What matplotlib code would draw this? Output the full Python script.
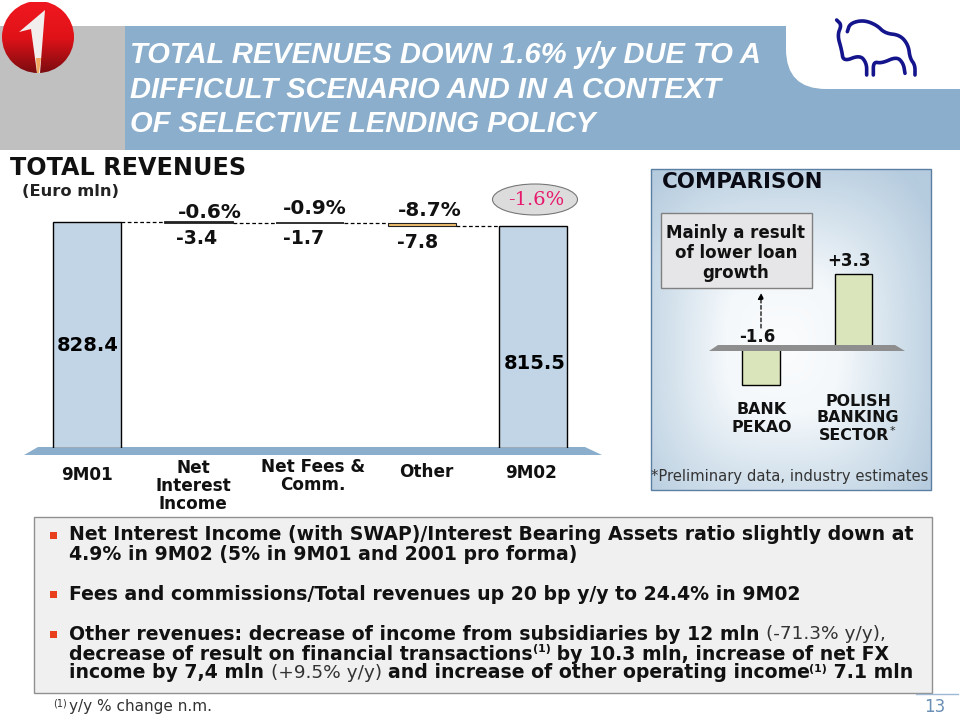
import numpy as np
import matplotlib
matplotlib.use('Agg')
import matplotlib.pyplot as plt
from matplotlib.colors import LinearSegmentedColormap
from matplotlib.patches import Polygon, Rectangle, Circle, Ellipse, FancyBboxPatch

plt.rcParams['font.family'] = ['DejaVu Sans']

# waterfall data (Euro mln)
wf_labels = ['9M01', 'Net\nInterest\nIncome', 'Net Fees &\nComm.', 'Other', '9M02']
start_value = 828.4
end_value = 815.5
deltas = [-3.4, -1.7, -7.8]
delta_labels = ['-3.4', '-1.7', '-7.8']
delta_pcts = ['-0.6%', '-0.9%', '-8.7%']
total_pct = '-1.6%'

# comparison panel
cmp_labels = ['BANK\nPEKAO', 'POLISH\nBANKING\nSECTOR']
cmp_values = [-1.6, 3.3]
cmp_texts = ['-1.6', '+3.3']

title_lines = ['TOTAL REVENUES DOWN 1.6% y/y DUE TO A',
               'DIFFICULT SCENARIO AND IN A CONTEXT',
               'OF SELECTIVE LENDING POLICY']

W, H = 960, 720
fig = plt.figure(figsize=(9.6, 7.2), dpi=100)
bg = fig.add_axes([0, 0, 1, 1])
bg.set_xlim(0, W)
bg.set_ylim(H, 0)
bg.axis('off')


def px_axes(left, right, top, bottom):
    """axes placed by pixel box, y measured from the top of the picture"""
    ax = fig.add_axes([left / W, 1 - bottom / H, (right - left) / W, (bottom - top) / H])
    ax.patch.set_alpha(0)
    ax.axis('off')
    return ax


def smooth(points, rounds=3):
    """corner cutting, only to round the hand-traced logo"""
    pts = np.array(points, dtype=float)
    for _ in range(rounds):
        q = 0.75 * pts[:-1] + 0.25 * pts[1:]
        r = 0.25 * pts[:-1] + 0.75 * pts[1:]
        mid = np.empty((2 * len(q), 2))
        mid[0::2] = q
        mid[1::2] = r
        pts = np.vstack([pts[0], mid, pts[-1]])
    return pts


# header
bg.add_patch(Rectangle((0, 26), 125, 124, fc='#c0c0c0', ec='none'))
bg.add_patch(Rectangle((125, 26), 835, 124, fc='#8aaecb', ec='none'))
bg.add_patch(FancyBboxPatch((786, -60), 240, 149, boxstyle='round,pad=0,rounding_size=40', fc='white', ec='none'))
title_y = [55, 90, 124]
for y, line in zip(title_y, title_lines):
    bg.text(130, y, line, color='white', fontsize=21, fontweight='bold', style='italic',
            family='Liberation Sans', va='center', ha='left')

# red logo
red = LinearSegmentedColormap.from_list('red', ['#f01820', '#e01218', '#7c0c10'])
im = bg.imshow(np.linspace(0, 1, 100).reshape(-1, 1), extent=(2, 74, 73, 2), cmap=red, aspect='auto', zorder=2)
im.set_clip_path(Circle((38, 37), 36, transform=bg.transData))
bg.add_patch(Polygon([(45, 10), (19, 32), (31, 29), (37, 73), (40, 73)], fc='#f2eeee', ec='none', zorder=3))
bg.add_patch(Polygon([(36, 58), (37, 73), (39, 73), (41, 58)], fc='#f0a860', ec='none', zorder=3))
bg.set_xlim(0, W)
bg.set_ylim(H, 0)

# bison logo
bison = [[(230, 60), (245, 75), (232, 105), (245, 150), (250, 185), (300, 165), (320, 190), (320, 225)],
         [(262, 95), (270, 70), (310, 60), (350, 75), (375, 100), (420, 105), (445, 135), (450, 175), (465, 195), (465, 225)],
         [(340, 225), (340, 185), (365, 190), (410, 170), (430, 190), (435, 220)]]
for seg in bison:
    pts = smooth(seg)
    bg.plot(760 + pts[:, 0] / 3, pts[:, 1] / 3, color='#14148c', lw=2.6, solid_capstyle='round')

bg.text(10, 168, 'TOTAL REVENUES', fontsize=17.2, fontweight='bold', va='center', color='#111111')
bg.text(22, 191, '(Euro mln)', fontsize=11.7, fontweight='bold', va='center', color='#222222')

# waterfall, 0.2728 px per Euro mln
wf = px_axes(31.25, 589.25, 448 - 900 * 0.2728, 448)
wf.set_xlim(-0.5, 4.5)
wf.set_ylim(0, 900)
levels = start_value + np.cumsum(deltas)
tops = np.concatenate([[start_value], levels])
bar_w = 0.61
wf.bar([0, 4], [start_value, end_value], width=bar_w, color='#c1d5e6', edgecolor='black', linewidth=1)
for i, d in enumerate(deltas):
    face = '#f0c070' if i == 2 else 'black'
    wf.bar(i + 1, d, bottom=tops[i], width=bar_w, color=face, edgecolor='#222222', linewidth=1.3 if i < 2 else 0.8)
for i, lev in enumerate(tops):
    wf.plot([i + bar_w / 2, i + 1 - bar_w / 2], [lev, lev], color='black', lw=0.9, dashes=(3, 2))
wf.text(0.01, 377, '%.1f' % start_value, ha='center', va='center', fontsize=14, fontweight='bold')
wf.text(4.01, 308, '%.1f' % end_value, ha='center', va='center', fontsize=14, fontweight='bold')

bg.add_patch(Polygon([(38, 447), (585, 447), (602, 455), (24, 455)], fc='#8aaecb', ec='none', zorder=5))

wf_label_pos = [(87, 475), (193, 486), (313, 476), (426, 472), (531, 473)]
for lab, pos in zip(wf_labels, wf_label_pos):
    bg.text(pos[0], pos[1], lab, ha='center', va='center', fontsize=12.2, fontweight='bold',
            color='#111111', linespacing=1.02)

pct_pos = [(210, 212), (315, 209), (430, 211)]
val_pos = [(197, 239), (304, 238), (418, 243)]
for s, p in zip(delta_pcts, pct_pos):
    bg.text(p[0], p[1], s, ha='center', va='center', fontsize=14.4, fontweight='bold', color='#111111')
for s, p in zip(delta_labels, val_pos):
    bg.text(p[0], p[1], s, ha='center', va='center', fontsize=13.6, fontweight='bold', color='#111111')

bg.add_patch(Ellipse((535, 199.5), 85, 31, fc='#dcdcdc', ec='#777777', lw=0.8))
bg.text(536, 200, total_pct, ha='center', va='center', fontsize=14, color='#e8186c', family='DejaVu Serif')

# comparison panel
yy, xx = np.mgrid[0:1:200j, 0:1:200j]
dist = (np.abs((xx - 0.47) / 0.53) ** 3 + np.abs((yy - 0.55) / 0.55) ** 3) ** (1 / 3)
blue = LinearSegmentedColormap.from_list('panel', ['#fbfcfd', '#f4f8fb', '#d3e1ec', '#b5cbde'])
bg.imshow(np.clip(dist / 1.15, 0, 1), extent=(651, 931, 490, 169), cmap=blue, aspect='auto', zorder=1)
bg.set_xlim(0, W)
bg.set_ylim(H, 0)
bg.add_patch(Rectangle((651, 169), 280, 321, fc='none', ec='#5b7fa3', lw=1, zorder=2))
bg.text(662, 182, 'COMPARISON', fontsize=15.4, fontweight='bold', va='center', color='#0a0a14', zorder=3)

bg.add_patch(Rectangle((661, 213), 151, 75, fc='#e6e6e8', ec='#808080', lw=1, zorder=3))
bg.text(736, 253, 'Mainly a result\nof lower loan\ngrowth', ha='center', va='center', fontsize=12,
        fontweight='bold', linespacing=1.12, color='#111111', zorder=4)
bg.annotate('', xy=(761, 293), xytext=(761, 328), zorder=4,
            arrowprops=dict(arrowstyle='-|>', color='black', lw=0.9, linestyle=(0, (3, 2)), mutation_scale=9,
                            shrinkA=0, shrinkB=0))

# 22.7 px per point, zero at y=349
cmp_ax = px_axes(761 - 46.25, 853.5 + 46.25, 349 - 4 * 22.7, 349 + 2 * 22.7)
cmp_ax.set_zorder(3)
cmp_ax.set_xlim(-0.5, 1.5)
cmp_ax.set_ylim(-2, 4)
cmp_ax.bar([0, 1], cmp_values, width=0.41, color='#dbe5bb', edgecolor='black', linewidth=1)

top = px_axes(0, W, 0, H)
top.set_zorder(4)
top.set_xlim(0, W)
top.set_ylim(H, 0)
top.add_patch(Polygon([(718, 345), (895, 345), (905, 351), (709, 351)], fc='#8e8e8e', ec='none'))
top.text(757, 337, cmp_texts[0], ha='center', va='center', fontsize=12, fontweight='bold', color='#111111')
top.text(849, 261, cmp_texts[1], ha='center', va='center', fontsize=12, fontweight='bold', color='#111111')
cmp_lines = [(762, y, s) for y, s in zip([410, 427], cmp_labels[0].split('\n'))]
cmp_lines += [(x, y, s) for x, y, s in zip([858.5, 858, 854], [401, 418, 436], cmp_labels[1].split('\n'))]
for x, y, s in cmp_lines:
    top.text(x, y, s, ha='center', va='center', fontsize=11.4, fontweight='bold', color='#111111')
top.text(890, 431, '*', ha='left', va='center', fontsize=8, color='#222222')
top.text(651, 477, '*Preliminary data, industry estimates', ha='left', va='center', fontsize=10.65, color='#333333')

# text box
bg.add_patch(Rectangle((34, 517), 898, 176, fc='#f0f0f0', ec='#909090', lw=1, zorder=1))
renderer = fig.canvas.get_renderer()


def run_width(txt, size, weight):
    a = top.text(0, 0, 'x' + txt + 'x', fontsize=size, fontweight=weight)
    b = top.text(0, 0, 'xx', fontsize=size, fontweight=weight)
    w = a.get_window_extent(renderer).width - b.get_window_extent(renderer).width
    a.remove()
    b.remove()
    return w


def draw_runs(x, y, runs, size=13.6):
    """write bold / normal / superscript pieces one after the other on one line"""
    for txt, kind in runs:
        weight = 'normal' if kind == 'n' else 'bold'
        s = {'b': size, 'n': size - 0.3, 's': size * 0.58}[kind]
        dy = -4.5 if kind == 's' else 0
        top.text(x, y + dy, txt, fontsize=s, fontweight=weight, va='center', ha='left',
                 color='#333333' if kind == 'n' else '#111111')
        x += run_width(txt, s, weight)


bullet_lines = [
    (535, True, [('Net Interest Income (with SWAP)/Interest Bearing Assets ratio slightly down at', 'b')]),
    (554, False, [('4.9% in 9M02 (5% in 9M01 and 2001 pro forma)', 'b')]),
    (594, True, [('Fees and commissions/Total revenues up 20 bp y/y to 24.4% in 9M02', 'b')]),
    (634, True, [('Other revenues: decrease of income from subsidiaries by 12 mln ', 'b'), ('(-71.3% y/y),', 'n')]),
    (654, False, [('decrease of result on financial transactions', 'b'), ('(1)', 's'), (' by 10.3 mln, increase of net FX', 'b')]),
    (673, False, [('income by 7,4 mln ', 'b'), ('(+9.5% y/y) ', 'n'), ('and increase of other operating income', 'b'),
                  ('(1)', 's'), (' 7.1 mln', 'b')]),
]
for y, has_bullet, runs in bullet_lines:
    if has_bullet:
        top.add_patch(Rectangle((49.5, y - 3.5), 7, 7, fc='#e8401c', ec='none'))
    draw_runs(69, y, runs)

top.text(53, 703, '(1)', fontsize=7, va='center', color='#333333')
top.text(69, 706, 'y/y % change n.m.', fontsize=11, va='center', color='#333333')
top.plot([916, 958], [694, 694], color='#9db8d2', lw=1)
top.text(935, 707, '13', fontsize=12, ha='center', va='center', color='#6a8fb5')

fig.savefig('out.png', dpi=100)
